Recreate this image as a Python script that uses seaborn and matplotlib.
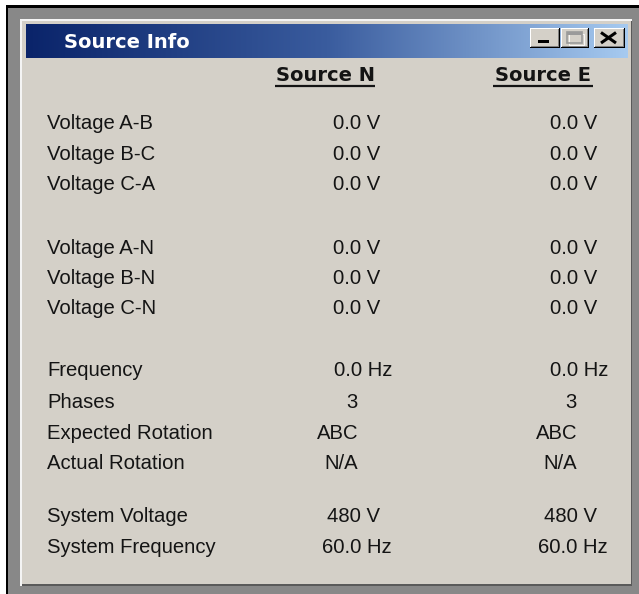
import numpy as np
import matplotlib
matplotlib.use("Agg")
import matplotlib.pyplot as plt
from matplotlib.patches import Rectangle
from matplotlib.colors import LinearSegmentedColormap
import seaborn as sns

# ---------------- data ----------------
window_title = "Source Info"
column_headers = ["Source N", "Source E"]
row_labels = [
    "Voltage A-B", "Voltage B-C", "Voltage C-A",
    "Voltage A-N", "Voltage B-N", "Voltage C-N",
    "Frequency", "Phases", "Expected Rotation", "Actual Rotation",
    "System Voltage", "System Frequency",
]
source_n_values = [
    "0.0 V", "0.0 V", "0.0 V",
    "0.0 V", "0.0 V", "0.0 V",
    "0.0 Hz", "3", "ABC", "N/A",
    "480 V", "60.0 Hz",
]
source_e_values = [
    "0.0 V", "0.0 V", "0.0 V",
    "0.0 V", "0.0 V", "0.0 V",
    "0.0 Hz", "3", "ABC", "N/A",
    "480 V", "60.0 Hz",
]

# ---------------- layout (pixels) ----------------
W, H = 639, 594
row_baselines = [129, 160, 190, 254, 284, 314, 376, 408, 439, 469, 522, 553]
label_x = 47
header_centers = [325, 543]
# right edges of value text per column, by unit kind
right_edges = {"V": [380, 597], "Hz": [392, 608], "plain": [358, 577]}

FACE = "#D4D0C8"
FRAME = "#888888"
TEXT = "#141414"

sns.set_theme(style="white")
plt.rcParams["font.family"] = ["Liberation Sans", "DejaVu Sans"]

fig = plt.figure(figsize=(W / 100, H / 100), dpi=100)
fig.patch.set_facecolor("white")
ax = fig.add_axes([0, 0, 1, 1])
ax.set_xlim(0, W)
ax.set_ylim(H, 0)
ax.axis("off")


def rect(x0, y0, x1, y1, color, z=1):
    ax.add_patch(Rectangle((x0, y0), x1 - x0, y1 - y0, facecolor=color,
                           edgecolor="none", zorder=z))


# outer frame
rect(6, 5, W, H, "#000000", 1)
rect(8, 8, W, H, FRAME, 2)
rect(20, 19, 632, 586, "#F4F4F4", 3)          # light bevel (top/left)
rect(22, 21, 632, 586, "#5A5A5A", 3)          # dark bevel (bottom/right)
rect(22, 21, 631, 584, FACE, 4)               # dialog face

# title bar gradient
grad = np.linspace(0, 1, 256).reshape(1, -1)
cmap = LinearSegmentedColormap.from_list("tb", ["#0A246A", "#3A5C9E", "#A6CAF0"])
ax.imshow(grad, cmap=cmap, aspect="auto", extent=(26, 628, 58, 24),
          zorder=5, interpolation="bilinear")
ax.set_xlim(0, W)
ax.set_ylim(H, 0)

ax.text(64, 42, window_title, color="white", fontsize=14,
        fontweight="bold", family=["DejaVu Sans"], va="center", ha="left",
        zorder=7)


# caption buttons
def button(x0, y0, x1, y1):
    rect(x0, y0, x1, y1, "#000000", 6)
    rect(x0, y0, x1 - 1, y1 - 1, "#FFFFFF", 6)
    rect(x0 + 1, y0 + 1, x1 - 1, y1 - 1, "#808080", 6)
    rect(x0 + 1, y0 + 1, x1 - 2, y1 - 2, FACE, 6)


button(530, 28, 560, 48)
button(561, 28, 589, 48)
button(594, 28, 625, 48)
# minimize glyph
rect(538, 40, 549, 43, "#000000", 7)
# maximize glyph (disabled)
ax.add_patch(Rectangle((567, 32), 15, 11, facecolor="none",
                       edgecolor="#9A9A9A", lw=1.2, zorder=7))
rect(567, 32, 582, 34.5, "#9A9A9A", 7)
ax.add_patch(Rectangle((568.5, 33.5), 15, 11, facecolor="none",
                       edgecolor="#FFFFFF", lw=0.6, zorder=6.5))
# close glyph
ax.plot([601, 616], [32.5, 43], color="#000000", lw=2.2, zorder=7,
        solid_capstyle="butt")
ax.plot([601, 616], [43, 32.5], color="#000000", lw=2.2, zorder=7,
        solid_capstyle="butt")

# column headers (bold, underlined)
for cx, head in zip(header_centers, column_headers):
    t = ax.text(cx, 81, head, color=TEXT, fontsize=14, fontweight="bold",
                family=["DejaVu Sans"], ha="center", va="baseline", zorder=7)
    half = 50
    ax.plot([cx - half, cx + half], [85.5, 85.5], color=TEXT, lw=1.6,
            zorder=7, solid_capstyle="butt")

BODY = 14.6


def kind(v):
    if v.endswith(" Hz"):
        return "Hz"
    if v.endswith(" V"):
        return "V"
    return "plain"


for i, lab in enumerate(row_labels):
    y = row_baselines[i]
    ax.text(label_x, y, lab, color=TEXT, fontsize=BODY, ha="left",
            va="baseline", zorder=7)
    for c, vals in enumerate([source_n_values, source_e_values]):
        v = vals[i]
        ax.text(right_edges[kind(v)][c], y, v, color=TEXT, fontsize=BODY,
                ha="right", va="baseline", zorder=7)

fig.savefig("out.png", dpi=100, facecolor="white")
